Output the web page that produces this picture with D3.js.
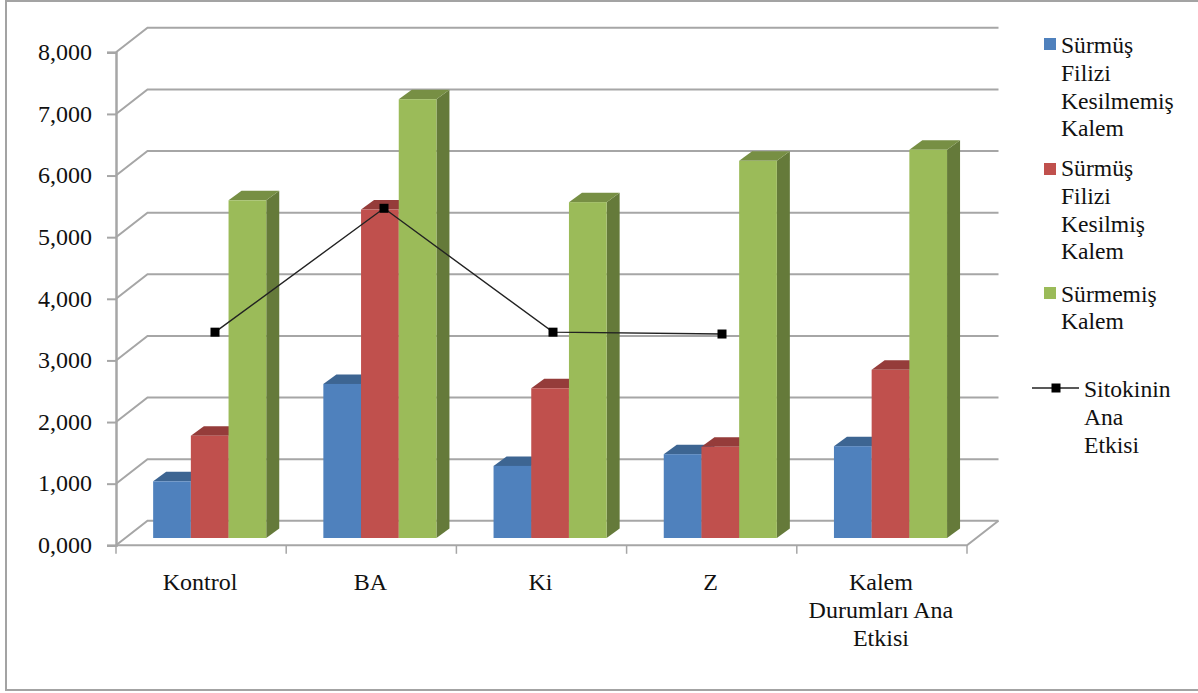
<!DOCTYPE html>
<html lang="tr">
<head>
<meta charset="utf-8">
<title>Sitokinin ve kalem durumları</title>
<script src="https://cdn.jsdelivr.net/npm/d3@7/dist/d3.min.js"></script>
<style>
  html, body { margin: 0; padding: 0; background: #fff; }
  svg { display: block; }
  text { font-family: "Liberation Serif", "Times New Roman", serif; font-size: 24px; fill: #111; }
  .legend text { font-size: 23.6px; }
</style>
</head>
<body>
<svg id="chart" width="1198" height="693"></svg>
<script>
// Chart values
const categories = ["Kontrol", "BA", "Ki", "Z", "Kalem Durumları Ana Etkisi"];
const categoryLines = [["Kontrol"], ["BA"], ["Ki"], ["Z"], ["Kalem", "Durumları Ana", "Etkisi"]];
const seriesNames = ["Sürmüş Filizi Kesilmemiş Kalem", "Sürmüş Filizi Kesilmiş Kalem", "Sürmemiş Kalem"];
const kesilmemis = [0.92, 2.50, 1.17, 1.36, 1.49];
const kesilmis = [1.66, 5.33, 2.43, 1.48, 2.73];
const surmemis = [5.48, 7.12, 5.45, 6.12, 6.30];
const sitokinin = [3.34, 5.35, 3.34, 3.31];
const yTicks = [0, 1, 2, 3, 4, 5, 6, 7, 8];
const legendLines = [
  ["Sürmüş", "Filizi", "Kesilmemiş", "Kalem"],
  ["Sürmüş", "Filizi", "Kesilmiş", "Kalem"],
  ["Sürmemiş", "Kalem"]
];
const lineLegendLines = ["Sitokinin", "Ana", "Etkisi"];

// Fill colours per series: front face, top face, side face
const palette = [
  { front: "#4f81bd", top: "#3d6592", side: "#3a5f8c" },
  { front: "#c0504d", top: "#953c3a", side: "#8e3b39" },
  { front: "#9bbb59", top: "#778f44", side: "#657a3a" }
];
const seriesValues = [kesilmemis, kesilmis, surmemis];

// Pseudo-3D geometry of the plot box
const frontLeft = 116, frontRight = 967;
const wall = { dx: 31.5, dy: -24.5 };     // front plane to back wall
const floorInset = { dx: 8.6, dy: -7.3 }; // front plane to the bars' front face
const barDepth = { dx: 13, dy: -9.5 };

const y = d3.scaleLinear().domain([0, 8]).range([545.3, 52.3]);
const xFront = d3.scaleBand().domain(categories).range([frontLeft, frontRight]);
const xInner = d3.scaleBand().domain(seriesNames).range([0, 113.1]);
const xLine = d3.scalePoint().domain(categories).range([215, 891]);
const unit = y(0) - y(1);
const gridColor = "#a6a6a6";

const svg = d3.select("#chart");

// Frame around the chart area
svg.append("path")
  .attr("d", "M1198,1 H6 V690 H1198")
  .attr("fill", "none").attr("stroke", "#a3a3a3").attr("stroke-width", 2);

// Back wall gridlines and the diagonals on the left wall
const grid = svg.append("g").attr("fill", "none").attr("stroke", gridColor).attr("stroke-width", 2);
grid.selectAll("path.wall").data(yTicks).join("path")
  .attr("class", "wall")
  .attr("d", d => d3.line()([
    [frontLeft, y(d)],
    [frontLeft + wall.dx, y(d) + wall.dy],
    [frontRight + wall.dx, y(d) + wall.dy]
  ]));
// Front and right edges of the floor
grid.append("path").attr("d", d3.line()([
  [frontLeft, y(0)],
  [frontRight, y(0)],
  [frontRight + wall.dx, y(0) + wall.dy]
]));

// Value axis
const yAxis = d3.axisLeft(y)
  .tickValues(yTicks)
  .tickSize(9)
  .tickPadding(15)
  .tickFormat(d3.formatLocale({ decimal: ",", thousands: ".", grouping: [3], currency: ["", ""] }).format(".3f"));
const yG = svg.append("g").attr("transform", `translate(${frontLeft},0)`).call(yAxis);
yG.select(".domain").attr("stroke", gridColor).attr("stroke-width", 2.5);
yG.selectAll(".tick line").attr("stroke", gridColor).attr("stroke-width", 2);
yG.selectAll(".tick text")
  .style("font-family", '"Liberation Serif", serif').style("font-size", "24px")
  .attr("fill", "#111").attr("dy", "0.3em");

// Category boundary ticks below the floor
svg.append("g").selectAll("line").data(d3.range(categories.length + 1)).join("line")
  .attr("x1", i => frontLeft + i * xFront.step()).attr("x2", i => frontLeft + i * xFront.step())
  .attr("y1", y(0)).attr("y2", y(0) + 8.5)
  .attr("stroke", gridColor).attr("stroke-width", 1.5);

// Bars: each one is a front face, a top face and a side face
const barLeft = (cat, s) => xFront(cat) + floorInset.dx + (xFront.bandwidth() - xInner.range()[1]) / 2 + xInner(s);
const barBase = y(0) + floorInset.dy;
const barTop = v => barBase - v * unit;

categories.forEach((cat, c) => {
  const group = svg.append("g").attr("class", "cluster");
  seriesNames.forEach((s, k) => {
    const v = seriesValues[k][c], x0 = barLeft(cat, s), w = xInner.bandwidth(), t = barTop(v);
    const col = palette[k];
    group.append("path").attr("fill", col.side)
      .attr("d", d3.line()([
        [x0 + w, t], [x0 + w + barDepth.dx, t + barDepth.dy],
        [x0 + w + barDepth.dx, barBase + barDepth.dy], [x0 + w, barBase]
      ]) + "Z");
    group.append("path").attr("fill", col.top)
      .attr("d", d3.line()([
        [x0, t], [x0 + barDepth.dx, t + barDepth.dy],
        [x0 + w + barDepth.dx, t + barDepth.dy], [x0 + w, t]
      ]) + "Z");
    group.append("rect").attr("x", x0).attr("y", t).attr("width", w).attr("height", barBase - t).attr("fill", col.front);
  });
});

// Main-effect line, drawn in the bars' depth plane
const lineX = i => xLine(categories[i]);
const lineY = v => barTop(v);
const lineGen = d3.line().x((d, i) => lineX(i)).y(d => lineY(d));
svg.append("path").datum(sitokinin)
  .attr("d", lineGen).attr("fill", "none").attr("stroke", "#222").attr("stroke-width", 1.4);
svg.append("g").selectAll("rect").data(sitokinin).join("rect")
  .attr("x", (d, i) => lineX(i) - 4.5).attr("y", d => lineY(d) - 4.5)
  .attr("width", 9).attr("height", 9).attr("fill", "#000");

// Category labels
const lineStep = 28;
const catG = svg.append("g").attr("text-anchor", "middle");
categories.forEach((cat, c) => {
  catG.selectAll(null).data(categoryLines[c]).join("text")
    .attr("x", xFront(cat) + xFront.bandwidth() / 2 - 1)
    .attr("y", (d, i) => 590 + i * lineStep)
    .text(d => d);
});

// Legend
const legendG = svg.append("g").attr("class", "legend");
const legendBaselines = [53, 176, 301.5];
const legendSwatchY = [38, 163, 287];
legendLines.forEach((lines, k) => {
  legendG.append("rect").attr("x", 1044).attr("y", legendSwatchY[k]).attr("width", 12).attr("height", 12)
    .attr("fill", palette[k].front);
  legendG.selectAll(null).data(lines).join("text")
    .attr("x", 1061).attr("y", (d, i) => legendBaselines[k] + i * 27.8).text(d => d);
});
legendG.append("line").attr("x1", 1032).attr("x2", 1079).attr("y1", 388).attr("y2", 388)
  .attr("stroke", "#222").attr("stroke-width", 1.4);
legendG.append("rect").attr("x", 1051.5).attr("y", 383.5).attr("width", 9).attr("height", 9).attr("fill", "#000");
legendG.selectAll(null).data(lineLegendLines).join("text")
  .attr("x", 1084).attr("y", (d, i) => 396.7 + i * 28).text(d => d);
</script>
</body>
</html>
